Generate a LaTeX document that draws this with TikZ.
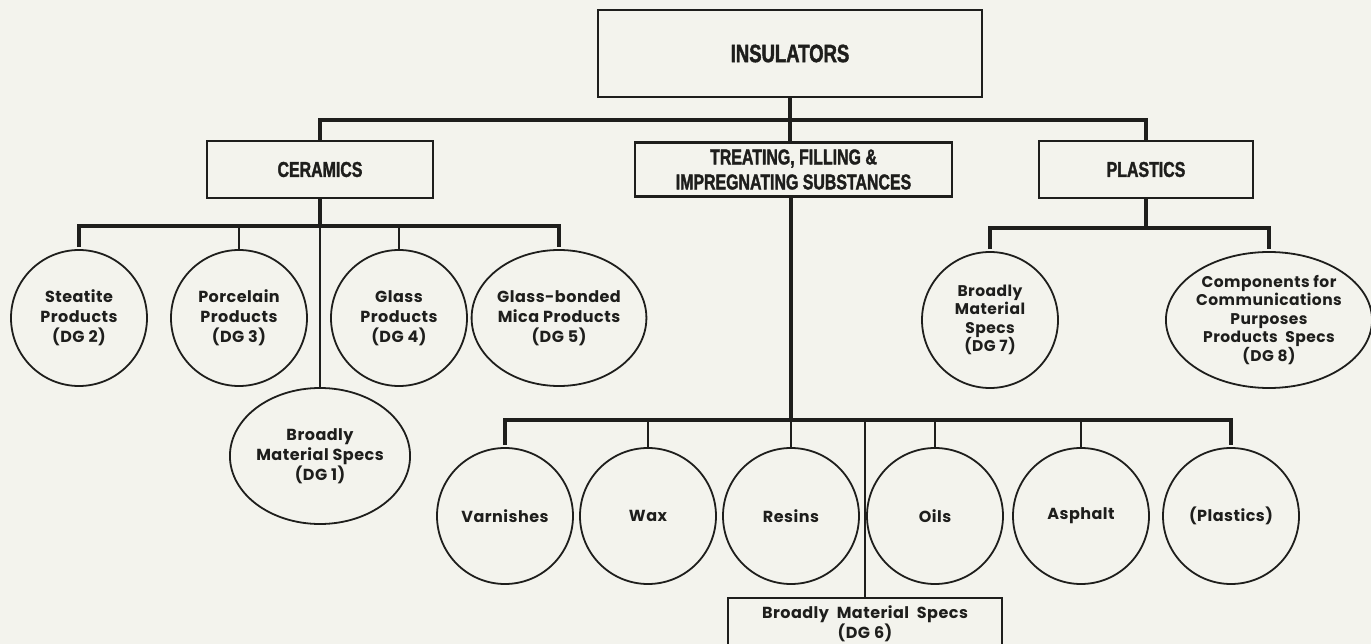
\documentclass[tikz,border=0pt]{standalone}
\usepackage{fontspec}
\usetikzlibrary{shapes.geometric}
\newfontfamily\hdrfont{Liberation Sans Bold}[FakeStretch=0.74,FakeBold=1.6]
\newfontfamily\circfont{Poppins Bold}[LetterSpace=3]
\definecolor{paper}{RGB}{243,243,237}
\definecolor{ink}{RGB}{30,30,28}
\tikzset{
  hbox/.style={draw=ink, line width=2.6pt, inner sep=0pt, align=center, text=ink,
     font=\hdrfont\fontsize{21.5}{25}\selectfont},
  disc/.style={ellipse, draw=ink, line width=1.8pt, minimum width=136pt, minimum height=136pt,
     inner sep=0pt, align=center, text=ink, font=\circfont\fontsize{16}{20}\selectfont},
  bus/.style={draw=ink, line width=4pt},
  drop/.style={draw=ink, line width=2.6pt},
  fine/.style={draw=ink, line width=1.3pt},
  specbox/.style={draw=ink, line width=1.6pt, inner sep=0pt, align=center, text=ink,
     font=\circfont\fontsize{16}{16}\selectfont}
}
\begin{document}
\begin{tikzpicture}[x=1pt,y=-1pt]
\useasboundingbox (0,0) rectangle (1371,644);
\clip (0,0) rectangle (1371,644);
\fill[paper] (0,0) rectangle (1371,644);

% top boxes
\node[hbox, minimum width=384pt, minimum height=87pt, font=\hdrfont\fontsize{25}{28}\selectfont] (ins) at (790,53.5) {INSULATORS};
\node[hbox, minimum width=226pt, minimum height=57pt] (cer) at (320,169.5) {CERAMICS};
\node[hbox, minimum width=317pt, minimum height=54pt] (tre) at (793.5,169.5) {TREATING, FILLING \&\\IMPREGNATING SUBSTANCES};
\node[hbox, minimum width=214pt, minimum height=57pt] (pla) at (1146,169.5) {PLASTICS};

% ceramics circles
\node[disc] (ste) at (79,318) {Steatite\\Products\\(DG 2)};
\node[disc] (por) at (239,318) {Porcelain\\Products\\(DG 3)};
\node[disc] (gla) at (399,318) {Glass\\Products\\(DG 4)};
\node[disc] (mic) at (559,318) {Glass-bonded\\Mica Products\\(DG 5)};
\node[disc] (dg1) at (320,456) {Broadly\\Material Specs\\(DG 1)};

% plastics circles
\node[disc, font=\circfont\fontsize{15.5}{18.5}\selectfont] (dg7) at (990,320) {Broadly\\Material\\Specs\\(DG 7)};
\node[disc, minimum width=202pt, font=\circfont\fontsize{15.5}{18.5}\selectfont] (com) at (1269,320) {Components for\\Communications\\Purposes\\Products\ \ Specs\\(DG 8)};

% treating circles
\node[disc] (var) at (505,516) {Varnishes};
\node[disc] (wax) at (648,516) {Wax};
\node[disc] (res) at (791,516) {Resins};
\node[disc] (oil) at (935,516) {Oils};
\node[disc] (asp) at (1081,516) {Asphalt};
\node[disc] (pls) at (1231,516) {(Plastics)};
\node[specbox, minimum width=274pt, minimum height=52pt] (dg6) at (865,624) {Broadly\ \ Material\ \ Specs\\(DG 6)};

% bus coordinates
\coordinate (tb) at (790,120);
\coordinate (cb) at (320,226);
\coordinate (pb) at (1146,228);
\coordinate (rb) at (791,420);

% connectors
\draw[bus] (ins.south) -- (ins.south |- tre.north);
\draw[bus] (cer.north) |- (tb) -| (pla.north);
\draw[bus] (cer.south) -- (cb);
\draw[bus] ([yshift=2pt]ste.north) |- (cb) -| ([yshift=2pt]mic.north);
\draw[drop] (por.north) -- (por.north |- cb);
\draw[drop] (gla.north) -- (gla.north |- cb);
\draw[drop] (cb) -- (dg1.north);
\draw[bus] (pla.south) -- (pb);
\draw[bus] ([yshift=2pt]dg7.north) |- (pb) -| ([yshift=2pt]com.north);
\draw[bus] (tre.south -| rb) -- (rb);
\draw[bus] ([yshift=2pt]var.north) |- (rb) -| ([yshift=2pt]pls.north);
\draw[drop] (wax.north) -- (wax.north |- rb);
\draw[drop] (res.north) -- (res.north |- rb);
\draw[drop] (oil.north) -- (oil.north |- rb);
\draw[drop] (asp.north) -- (asp.north |- rb);
\draw[fine] (dg6.north |- rb) -- (dg6.north);
\end{tikzpicture}
\end{document}
